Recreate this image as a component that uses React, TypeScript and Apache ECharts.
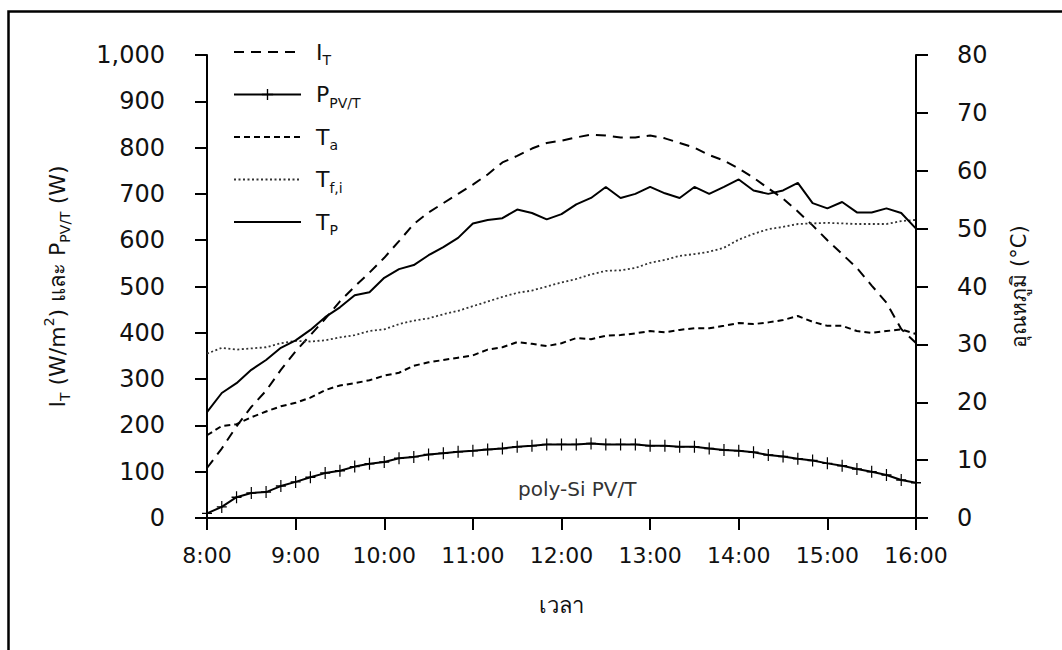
import React, { useEffect, useRef } from 'react';
import * as echarts from 'echarts';

const times = [
  '8:00', '8:10', '8:20', '8:30', '8:40', '8:50',
  '9:00', '9:10', '9:20', '9:30', '9:40', '9:50',
  '10:00', '10:10', '10:20', '10:30', '10:40', '10:50',
  '11:00', '11:10', '11:20', '11:30', '11:40', '11:50',
  '12:00', '12:10', '12:20', '12:30', '12:40', '12:50',
  '13:00', '13:10', '13:20', '13:30', '13:40', '13:50',
  '14:00', '14:10', '14:20', '14:30', '14:40', '14:50',
  '15:00', '15:10', '15:20', '15:30', '15:40', '15:50',
  '16:00',
];

// Solar irradiance I_T (W/m2) - left axis
const irradiance = [
  108, 150, 198, 240, 275, 320, 360, 395, 430, 468, 500, 530,
  562, 598, 635, 660, 680, 700, 720, 742, 768, 782, 798, 810,
  815, 822, 828, 826, 822, 822, 826, 820, 810, 800, 784, 772,
  755, 735, 712, 690, 662, 632, 600, 570, 540, 502, 465, 408,
  378,
];

// Electrical power P_PV/T (W) - left axis
const power = [
  10, 24, 45, 54, 56, 69, 78, 88, 97, 102, 111, 117,
  121, 129, 132, 137, 140, 143, 145, 148, 150, 154, 156, 159,
  159, 159, 161, 159, 159, 159, 156, 156, 154, 154, 150, 147,
  145, 142, 136, 133, 128, 124, 118, 113, 106, 100, 93, 82,
  76,
];

// Ambient temperature T_a (°C) - right axis
const tAmbient = [
  14.3, 15.9, 16.2, 17.4, 18.4, 19.3, 19.9, 20.8, 22.1, 22.9, 23.3, 23.8,
  24.6, 25.1, 26.3, 26.9, 27.3, 27.7, 28.1, 29.1, 29.5, 30.4, 30.1, 29.7,
  30.2, 31.1, 30.9, 31.5, 31.6, 31.9, 32.3, 32.1, 32.5, 32.8, 32.8, 33.2,
  33.7, 33.5, 33.8, 34.2, 34.9, 33.9, 33.2, 33.2, 32.3, 32.0, 32.3, 32.6,
  31.8,
];

// Inlet fluid temperature T_f,i (°C) - right axis
const tFluidIn = [
  28.4, 29.4, 29.1, 29.3, 29.5, 30.2, 30.6, 30.5, 30.7, 31.2, 31.6, 32.3,
  32.6, 33.5, 34.1, 34.5, 35.2, 35.8, 36.6, 37.4, 38.2, 38.9, 39.3, 40.0,
  40.7, 41.3, 42.1, 42.7, 42.8, 43.2, 44.1, 44.6, 45.3, 45.6, 46.0, 46.7,
  48.1, 49.1, 49.9, 50.3, 50.8, 50.9, 51.0, 50.9, 50.8, 50.8, 50.8, 51.3,
  51.5,
];

// Panel temperature T_P (°C) - right axis
const tPanel = [
  18.3, 21.6, 23.3, 25.6, 27.3, 29.4, 30.7, 32.5, 34.7, 36.4, 38.5, 39.0,
  41.5, 43.0, 43.7, 45.4, 46.8, 48.4, 50.9, 51.5, 51.8, 53.3, 52.7, 51.6,
  52.5, 54.2, 55.3, 57.2, 55.3, 56.0, 57.2, 56.1, 55.3, 57.2, 56.0, 57.2,
  58.5, 56.6, 56.0, 56.6, 57.9, 54.4, 53.5, 54.6, 52.8, 52.8, 53.5, 52.7,
  50.0,
];

const seriesNames = ['IT', 'PPVT', 'Ta', 'Tfi', 'TP'];
const legendLabels: Record<string, string> = {
  IT: '{n|I}{s|T}',
  PPVT: '{n|P}{s|PV/T}',
  Ta: '{n|T}{s|a}',
  Tfi: '{n|T}{s|f,i}',
  TP: '{n|T}{s|P}',
};

const FONT = '"DejaVu Sans", "Noto Sans", sans-serif';
const INK = '#111';
const CROSS = 'path://M4.4,0H5.6V4.4H10V5.6H5.6V10H4.4V5.6H0V4.4H4.4Z';

export default function App() {
  const ref = useRef<HTMLDivElement>(null);

  useEffect(() => {
    document.body.style.margin = '0';
    const chart = echarts.init(ref.current!, null, { renderer: 'svg' });

    const axisCommon = {
      axisLine: { show: true, lineStyle: { color: '#000', width: 2 } },
      axisTick: { show: true, length: 12, lineStyle: { color: '#000', width: 2 } },
      splitLine: { show: false },
    };

    const titleRich = {
      n: { fontSize: 22, fontFamily: FONT, color: INK, lineHeight: 30 },
      s: { fontSize: 14, fontFamily: FONT, color: INK, verticalAlign: 'bottom', lineHeight: 12 },
      p: { fontSize: 14, fontFamily: FONT, color: INK, verticalAlign: 'top', lineHeight: 16 },
    };

    const legendData = seriesNames.map((n) =>
      n === 'PPVT' ? { name: n } : { name: n, itemStyle: { opacity: 0 } }
    );

    const option: any = {
      animation: false,
      backgroundColor: '#fff',
      grid: { left: 207, right: 146, top: 55, bottom: 132, containLabel: false },
      graphic: [
        {
          type: 'rect',
          silent: true,
          z: 0,
          shape: { x: 8.5, y: 11.5, width: 1200, height: 800 },
          style: { fill: 'none', stroke: '#000', lineWidth: 2.5 },
        },
        {
          type: 'text',
          left: 518,
          top: 479,
          style: { text: 'poly-Si PV/T', fontSize: 20, fill: '#333', fontFamily: FONT },
        },
      ],
      legend: {
        orient: 'vertical',
        left: 228,
        top: 36,
        itemWidth: 67,
        itemHeight: 14,
        itemGap: 16.5,
        data: legendData,
        formatter: (name: string) => legendLabels[name],
        textStyle: {
          color: INK,
          fontFamily: FONT,
          fontSize: 22,
          padding: [0, 0, 0, 10],
          rich: {
            n: { fontSize: 22, fontFamily: FONT, color: INK, lineHeight: 30 },
            s: { fontSize: 14, fontFamily: FONT, color: INK, verticalAlign: 'bottom', lineHeight: 12 },
          },
        },
      },
      xAxis: {
        type: 'category',
        data: times,
        boundaryGap: false,
        ...axisCommon,
        axisTick: { show: true, length: 12, interval: 5, lineStyle: { color: '#000', width: 2 } },
        axisLabel: { interval: 5, margin: 26, fontSize: 22, color: INK, fontFamily: FONT },
        name: 'เวลา',
        nameLocation: 'middle',
        nameGap: 76,
        nameTextStyle: { fontSize: 22, color: INK, fontFamily: FONT },
      },
      yAxis: [
        {
          type: 'value',
          position: 'left',
          min: 0,
          max: 1000,
          interval: 100,
          ...axisCommon,
          axisLabel: {
            margin: 42,
            fontSize: 24,
            color: INK,
            fontFamily: FONT,
            formatter: (v: number) => v.toLocaleString('en-US'),
          },
          name: '{n|I}{s|T}{n| (W/m}{p|2}{n|) และ P}{s|PV/T}{n| (W)}',
          nameLocation: 'middle',
          nameRotate: 90,
          nameGap: 135,
          nameTextStyle: { rich: titleRich },
        },
        {
          type: 'value',
          position: 'right',
          min: 0,
          max: 80,
          interval: 10,
          ...axisCommon,
          axisLabel: { margin: 41, fontSize: 24, color: INK, fontFamily: FONT },
          name: 'อุณหภูมิ (°C)',
          nameLocation: 'middle',
          nameRotate: 90,
          nameGap: 92,
          nameTextStyle: { fontSize: 21, color: INK, fontFamily: FONT },
        },
      ],
      series: [
        {
          name: 'IT',
          type: 'line',
          yAxisIndex: 0,
          data: irradiance,
          symbol: 'none',
          lineStyle: { color: '#000', width: 2, type: [10, 7] },
          itemStyle: { color: '#000' },
        },
        {
          name: 'PPVT',
          type: 'line',
          yAxisIndex: 0,
          data: power,
          symbol: CROSS,
          symbolSize: [10, 12],
          showAllSymbol: true,
          lineStyle: { color: '#000', width: 2 },
          itemStyle: { color: '#000' },
        },
        {
          name: 'Ta',
          type: 'line',
          yAxisIndex: 1,
          data: tAmbient,
          symbol: 'none',
          lineStyle: { color: '#000', width: 2, type: [6, 4] },
          itemStyle: { color: '#000' },
        },
        {
          name: 'Tfi',
          type: 'line',
          yAxisIndex: 1,
          data: tFluidIn,
          symbol: 'none',
          lineStyle: { color: '#333', width: 1.8, type: [2, 2.5] },
          itemStyle: { color: '#333' },
        },
        {
          name: 'TP',
          type: 'line',
          yAxisIndex: 1,
          data: tPanel,
          symbol: 'none',
          lineStyle: { color: '#000', width: 2 },
          itemStyle: { color: '#000' },
        },
      ],
    };

    chart.setOption(option);
    return () => chart.dispose();
  }, []);

  return <div ref={ref} style={{ width: 1062, height: 650 }} />;
}
